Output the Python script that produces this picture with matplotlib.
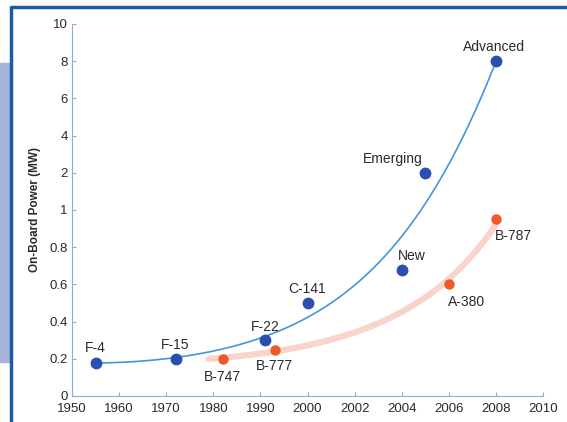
import numpy as np
import matplotlib
matplotlib.use("Agg")
import matplotlib.pyplot as plt
from matplotlib.patches import Rectangle
from matplotlib.lines import Line2D

plt.rcParams['font.family'] = ['Liberation Sans', 'DejaVu Sans']

# axis breakpoints (the original chart uses uneven scales)
year_ticks = [1950, 1960, 1970, 1980, 1990, 2000, 2002, 2004, 2006, 2008, 2010]
power_ticks = [0, 0.2, 0.4, 0.6, 0.8, 1, 2, 4, 6, 8, 10]

# military / future aircraft
mil_names = ['F-4', 'F-15', 'F-22', 'C-141', 'New', 'Emerging', 'Advanced']
mil_years = [1955, 1972, 1991, 2000, 2004, 2005, 2008]
mil_power = [0.18, 0.2, 0.3, 0.5, 0.68, 2, 8]

# commercial aircraft
com_names = ['B-747', 'B-777', 'A-380', 'B-787']
com_years = [1982, 1993, 2006, 2008]
com_power = [0.2, 0.25, 0.6, 0.95]

# label offsets in pixels (dx, dy)
mil_off = [(0, 15), (0, 14), (0, 13), (0, 14), (10, 14), (-32, 14), (-2, 14)]
com_off = [(0, -18), (0, -17), (18, -18), (18, -17)]


def xpos(y):
    return np.interp(y, year_ticks, np.arange(len(year_ticks)))


def ypos(p):
    return np.interp(p, power_ticks, np.arange(len(power_ticks)))


fig = plt.figure(figsize=(5.67, 4.22), dpi=100)

# frame decoration
fig.patches.append(Rectangle((0, 60 / 422), 10 / 567, 299 / 422, transform=fig.transFigure,
                             color='#a7b3da', zorder=0))
fig.lines.append(Line2D([11 / 567, 11 / 567, 1.0], [0, 1 - 7 / 422, 1 - 7 / 422],
                        transform=fig.transFigure, color='#1d5aa6', lw=2.5))

ax = fig.add_axes([72 / 567, 26 / 422, 471 / 567, 372 / 422])

mx, my = xpos(mil_years), ypos(mil_power)
cx, cy = xpos(com_years), ypos(com_power)

# trend curves fitted in display space
fit_m = np.polyfit(mx, np.log(my), 3)
tx = np.linspace(mx[0], mx[-1], 200)
ax.plot(tx, np.exp(np.polyval(fit_m, tx)), color='#4396de', lw=1.2, zorder=2)

fit_c = np.polyfit(cx, np.log(cy), 2)
tc = np.linspace(cx[0] - 0.3, cx[-1], 200)
ax.plot(tc, np.exp(np.polyval(fit_c, tc)), color='#f2a08c', lw=4.5, alpha=0.45,
        solid_capstyle='round', zorder=2)

ax.plot(mx, my, 'o', color='#2a4fb0', ms=7.5, zorder=3)
ax.plot(cx, cy, 'o', color='#ec5a2c', ms=6.5, zorder=3)

for n, x, y, o in zip(mil_names, mx, my, mil_off):
    ax.annotate(n, (x, y), xytext=o, textcoords='offset pixels', ha='center', va='center',
                fontsize=10, color='#2a2a2a')
for n, x, y, o in zip(com_names, cx, cy, com_off):
    ax.annotate(n, (x, y), xytext=o, textcoords='offset pixels', ha='center', va='center',
                fontsize=10, color='#2a2a2a')

ax.set_xlim(0, 10)
ax.set_ylim(0, 10)
ax.set_xticks(np.arange(len(year_ticks)))
ax.set_xticklabels([str(y) for y in year_ticks])
ax.set_yticks(np.arange(len(power_ticks)))
ax.set_yticklabels([f'{p:g}' for p in power_ticks])
for s in ['top', 'right']:
    ax.spines[s].set_visible(False)
for s in ['left', 'bottom']:
    ax.spines[s].set_color('#8aaed4')
ax.tick_params(direction='in', length=3, color='#8aaed4', labelsize=9.5, labelcolor='#2a2a2a')
ax.tick_params(axis='x', pad=5)
ax.tick_params(axis='y', pad=3)
ax.set_ylabel('On-Board Power (MW)', fontsize=8.5, fontweight='bold', color='#2a2a2a',
              labelpad=6)

fig.savefig('out.png', dpi=100)
